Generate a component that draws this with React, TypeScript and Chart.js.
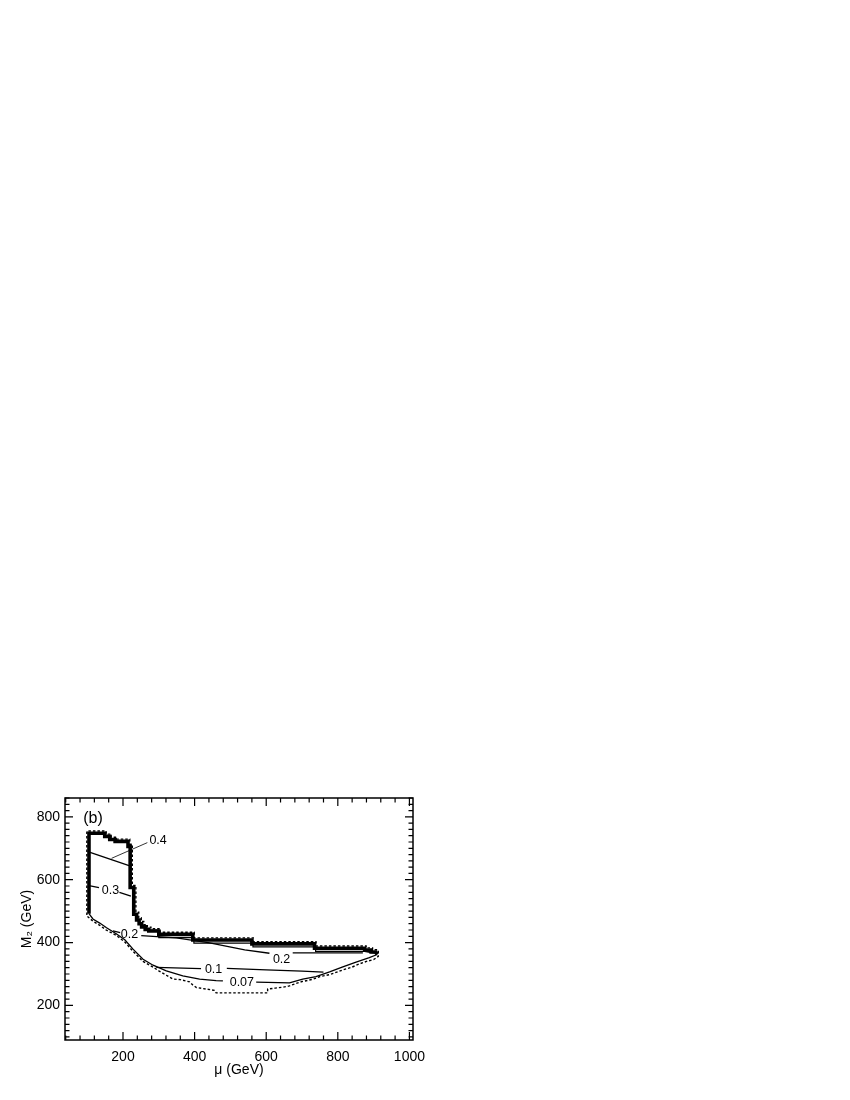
import React, { useEffect, useRef } from 'react';
import { Chart, registerables } from 'chart.js';

Chart.register(...registerables);

type P = [number, number];

const FONT = "'Liberation Sans', Arial, Helvetica, sans-serif";

// axis ranges and tick labels
const X_MIN = 38;
const X_MAX = 1010;
const Y_MIN = 90;
const Y_MAX = 860;
const xTickLabels = [200, 400, 600, 800, 1000];
const yTickLabels = [200, 400, 600, 800];

// region boundary: thick solid part (left edge + upper edge)
const boundaryThick: P[] = [
  [105, 492], [105, 748], [149, 748], [149, 738], [163, 738], [163, 728], [178, 728], [178, 722],
  [214, 722], [214, 706], [220, 706], [220, 575], [230, 575], [230, 490], [238, 490], [238, 472],
  [245, 472], [245, 460], [252, 460], [252, 450], [262, 450], [262, 442], [272, 442], [272, 437],
  [300, 437], [300, 426], [395, 426], [395, 408], [560, 408], [560, 396], [735, 396], [735, 382],
  [875, 382], [875, 376], [893, 376], [893, 370], [906, 370], [910, 362],
];

// thin line just inside the upper band
const bandInner: P[] = [
  [262, 440], [300, 440], [300, 416], [398, 416], [398, 398], [563, 398], [563, 386], [738, 386],
  [738, 372], [875, 372], [893, 368], [906, 366],
];

// lower boundary (thin solid), split around the 0.07 label
const lowerSolidA: P[] = [
  [105, 492], [116, 475], [135, 462], [154, 447], [181, 428], [205, 409], [228, 379], [256, 347],
  [284, 328], [321, 310], [367, 294], [414, 284], [460, 279], [479, 278],
];
const lowerSolidB: P[] = [
  [572, 274], [665, 272], [702, 284], [739, 292], [777, 307], [814, 323], [851, 338], [888, 352], [910, 362],
];

// dashed outer boundary (closed loop)
const dashedOuter: P[] = [
  [99, 488], [99, 755], [153, 755], [153, 745], [167, 745], [167, 735], [182, 735], [182, 729],
  [219, 729], [219, 713], [226, 713], [226, 582], [236, 582], [236, 497], [244, 497], [244, 479],
  [251, 479], [251, 467], [258, 467], [258, 457], [268, 457], [268, 449], [278, 449], [278, 444],
  [304, 444], [304, 433], [399, 433], [399, 415], [564, 415], [564, 403], [739, 403], [739, 389],
  [879, 389], [879, 383], [897, 383], [897, 377], [913, 377], [913, 356],
  [900, 346], [880, 340], [860, 332], [840, 322], [814, 313], [790, 303], [777, 298], [750, 292],
  [730, 283], [700, 276], [683, 270], [665, 262], [646, 258], [625, 255], [604, 252], [604, 240],
  [460, 240], [455, 248], [405, 257], [395, 265], [386, 275], [360, 282], [339, 284], [321, 296],
  [300, 310], [284, 322], [256, 340], [228, 372], [205, 402], [181, 423], [153, 440], [135, 455],
  [116, 468], [100, 484], [99, 488],
];

// contour lines
const c04: P[] = [[106, 688], [219, 644]];
const c04Leader: P[] = [[168, 668], [268, 718]];
const c03a: P[] = [[105, 581], [133, 575]];
const c03b: P[] = [[190, 560], [222, 548]];
const c02a: P[] = [[172, 437], [192, 432]];
const c02b: P[] = [[251, 422], [349, 415], [442, 399], [498, 386], [540, 377], [609, 366]];
const c02c: P[] = [[674, 367], [870, 367]];
const c01a: P[] = [[293, 321], [418, 317]];
const c01b: P[] = [[490, 318], [600, 313], [700, 309], [760, 306]];

// contour labels
const labelTexts = ['0.4', '0.3', '0.2', '0.2', '0.1', '0.07'];
const labelMu = [298, 165, 218, 643, 453, 532];
const labelM2 = [726, 564, 425, 347, 315, 274];

const panelLabel = '(b)';
const panelPos: P = [116, 793];

const toXY = (arr: P[]) => arr.map(([x, y]) => ({ x, y }));

const ds = (arr: P[], width: number, dash: number[] = []) => ({
  data: toXY(arr),
  showLine: true,
  borderColor: '#000',
  backgroundColor: '#000',
  borderWidth: width,
  borderDash: dash,
  pointRadius: 0,
  pointHoverRadius: 0,
  fill: false,
  tension: 0,
  borderJoinStyle: 'miter' as const,
  borderCapStyle: 'butt' as const,
});

const framePlugin = {
  id: 'frameTicks',
  afterDatasetsDraw(chart: any) {
    const { ctx, chartArea, scales } = chart;
    const { left, right, top, bottom } = chartArea;
    const xs = scales.x;
    const ys = scales.y;
    ctx.save();
    ctx.fillStyle = '#000';
    ctx.textAlign = 'center';
    ctx.textBaseline = 'middle';
    ctx.font = `12.5px ${FONT}`;
    labelTexts.forEach((t, i) => {
      ctx.fillText(t, xs.getPixelForValue(labelMu[i]), ys.getPixelForValue(labelM2[i]));
    });
    ctx.font = `16px ${FONT}`;
    ctx.fillText(panelLabel, xs.getPixelForValue(panelPos[0]), ys.getPixelForValue(panelPos[1]));

    ctx.strokeStyle = '#000';
    ctx.lineWidth = 1.5;
    ctx.strokeRect(left, top, right - left, bottom - top);

    ctx.lineWidth = 1.2;
    ctx.beginPath();
    for (let v = 40; v <= 1000; v += 40) {
      const px = xs.getPixelForValue(v);
      const len = v % 200 === 0 ? 8 : 4.5;
      ctx.moveTo(px, bottom);
      ctx.lineTo(px, bottom - len);
      ctx.moveTo(px, top);
      ctx.lineTo(px, top + len);
    }
    for (let v = 100; v <= 860; v += 20) {
      const py = ys.getPixelForValue(v);
      const len = v % 200 === 0 ? 8 : 4.5;
      ctx.moveTo(left, py);
      ctx.lineTo(left + len, py);
      ctx.moveTo(right, py);
      ctx.lineTo(right - len, py);
    }
    ctx.stroke();
    ctx.restore();
  },
};

export default function App() {
  const ref = useRef<HTMLCanvasElement | null>(null);

  useEffect(() => {
    if (!ref.current) return;
    const chart = new Chart(ref.current, {
      type: 'scatter',
      data: {
        datasets: [
          ds(dashedOuter, 1.4, [2.5, 2]),
          ds(lowerSolidA, 1.3),
          ds(lowerSolidB, 1.3),
          ds(bandInner, 1.2),
          ds(c04, 1.3),
          ds(c04Leader, 0.8),
          ds(c03a, 1.3),
          ds(c03b, 1.3),
          ds(c02a, 1.3),
          ds(c02b, 1.3),
          ds(c02c, 1.3),
          ds(c01a, 1.3),
          ds(c01b, 1.3),
          ds(boundaryThick, 3.6),
        ] as any,
      },
      options: {
        responsive: false,
        animation: false,
        devicePixelRatio: 1,
        events: [],
        layout: { padding: { left: 18.6, right: 437, top: 798, bottom: 21.6 } },
        plugins: {
          legend: { display: false },
          tooltip: { enabled: false },
          title: { display: false },
        },
        scales: {
          x: {
            type: 'linear',
            position: 'bottom',
            min: X_MIN,
            max: X_MAX,
            afterBuildTicks: (s: any) => {
              s.ticks = xTickLabels.map((v) => ({ value: v }));
            },
            afterFit: (s: any) => {
              s.height = 38.4;
            },
            grid: { display: false, drawTicks: false },
            border: { display: false },
            ticks: {
              color: '#000',
              font: { family: FONT, size: 14 },
              padding: 9,
              maxRotation: 0,
              autoSkip: false,
              callback: (v: any) => String(v),
            },
            title: {
              display: true,
              text: 'μ (GeV)',
              color: '#000',
              font: { family: FONT, size: 14 },
              padding: 0,
            },
          },
          y: {
            type: 'linear',
            position: 'left',
            min: Y_MIN,
            max: Y_MAX,
            afterBuildTicks: (s: any) => {
              s.ticks = yTickLabels.map((v) => ({ value: v }));
            },
            afterFit: (s: any) => {
              s.width = 46.4;
            },
            grid: { display: false, drawTicks: false },
            border: { display: false },
            ticks: {
              color: '#000',
              font: { family: FONT, size: 14 },
              padding: 5,
              autoSkip: false,
              callback: (v: any) => String(v),
            },
            title: {
              display: true,
              text: 'M₂ (GeV)',
              color: '#000',
              font: { family: FONT, size: 14 },
              padding: 0,
            },
          },
        },
      } as any,
      plugins: [framePlugin],
    });
    return () => chart.destroy();
  }, []);

  return (
    <div style={{ position: 'absolute', left: 0, top: 0, width: 850, height: 1100 }}>
      <canvas ref={ref} width={850} height={1100} style={{ display: 'block' }} />
    </div>
  );
}
